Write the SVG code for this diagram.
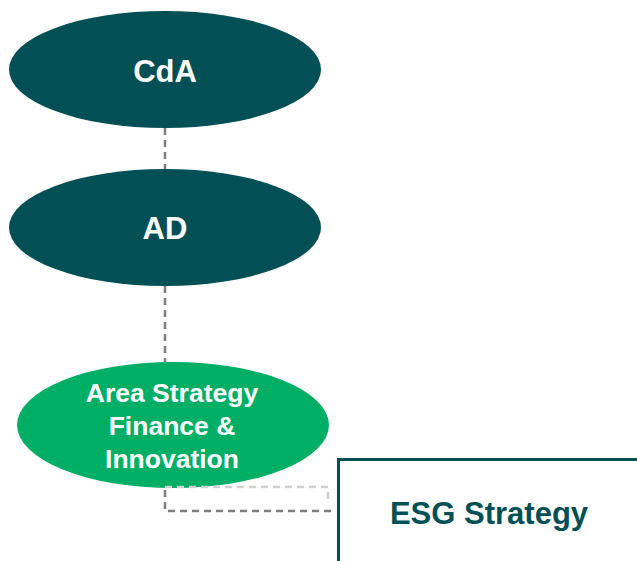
<svg xmlns="http://www.w3.org/2000/svg" width="637" height="561" viewBox="0 0 637 561">
<style>
.dk{fill:#034F56}
.gr{fill:#00AE66}
.lbl{font-family:"Liberation Sans",Arial,sans-serif;font-weight:bold;fill:#fff;text-anchor:middle}
.dash{fill:none;stroke:#7F7F7F;stroke-width:2.5;stroke-dasharray:7 5}
.ldash{fill:none;stroke:#D0D0D0;stroke-width:2.5;stroke-dasharray:7 5}
</style>
<rect width="637" height="561" fill="#fff"/>
<g id="cda">
<ellipse class="dk" cx="165" cy="69.5" rx="156" ry="58.5"/>
<text class="lbl" x="165" y="82" font-size="31">CdA</text>
</g>
<g id="ad">
<ellipse class="dk" cx="165" cy="227.5" rx="156" ry="58.5"/>
<text class="lbl" x="165" y="239" font-size="31">AD</text>
</g>
<g id="area">
<ellipse class="gr" cx="173" cy="425" rx="156" ry="63"/>
<text class="lbl" x="172" y="402" font-size="26.5">Area Strategy</text>
<text class="lbl" x="172" y="435" font-size="26.5">Finance &amp;</text>
<text class="lbl" x="172" y="468" font-size="26.5">Innovation</text>
</g>
<g id="esg">
<rect x="338.5" y="459.5" width="310" height="120" fill="#fff" stroke="#034F56" stroke-width="3"/>
<text x="489" y="524" font-family="Liberation Sans,Arial,sans-serif" font-weight="bold" font-size="31" fill="#034F56" text-anchor="middle">ESG Strategy</text>
</g>
<g id="connectors">
<line class="dash" x1="165" y1="128" x2="165" y2="169"/>
<line class="dash" x1="165" y1="286" x2="165" y2="362"/>
<polyline class="ldash" points="165,487 328,487 328,504"/>
<polyline class="dash" points="165,490 165,511 336,511"/>
</g>
</svg>
